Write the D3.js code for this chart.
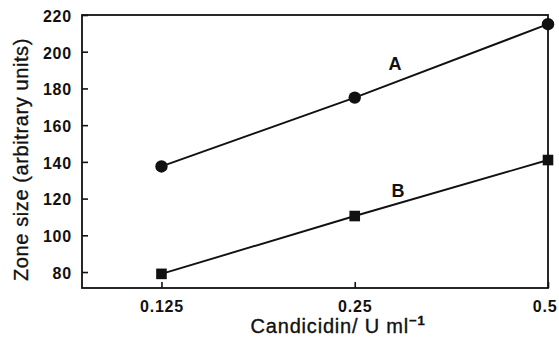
<!DOCTYPE html>
<html>
<head>
<meta charset="utf-8">
<script src="https://cdn.jsdelivr.net/npm/d3@7"></script>
<style>
  html, body { margin: 0; padding: 0; background: #fff; }
  svg text { font-family: "Liberation Sans", Arial, Helvetica, sans-serif; fill: #111; }
</style>
</head>
<body>
<svg id="chart" width="559" height="342"></svg>
<script>
// Candicidin concentration (U/ml) on a log axis
const doses = [0.125, 0.25, 0.5];
const doseLabels = ["0.125", "0.25", "0.5"];
// Zone size for the two assay series
const seriesA = [137.5, 175, 215];
const seriesB = [79, 110.5, 141];
const yTicks = [80, 100, 120, 140, 160, 180, 200, 220];

const margin = { left: 82, top: 15, right: 11, bottom: 54 };
const W = 559, H = 342;
const svg = d3.select("#chart");

const x = d3.scaleLog().base(2).domain([0.0940, 0.5]).range([margin.left, W - margin.right]);
const y = d3.scaleLinear().domain([71.3, 220]).range([H - margin.bottom, margin.top]);

const ink = "#111";
const tickFont = sel => sel
  .attr("font-size", 16).attr("font-weight", "bold").attr("letter-spacing", 0.8)
  .attr("fill", ink).attr("font-family", "Liberation Sans, Arial, sans-serif");

// frame
svg.append("rect")
  .attr("x", margin.left).attr("y", margin.top)
  .attr("width", W - margin.right - margin.left)
  .attr("height", H - margin.bottom - margin.top)
  .attr("fill", "none").attr("stroke", ink).attr("stroke-width", 1.8);

// y axis, ticks pointing inward
const yAxis = svg.append("g")
  .attr("transform", `translate(${margin.left},0)`)
  .call(d3.axisLeft(y).tickValues(yTicks).tickSizeInner(-6).tickSizeOuter(0).tickPadding(10));
yAxis.select(".domain").remove();
yAxis.selectAll(".tick line").attr("stroke", ink).attr("stroke-width", 1.6);
yAxis.selectAll(".tick text").call(tickFont).attr("dy", "0.4em");

// x axis, ticks pointing inward
const xAxis = svg.append("g")
  .attr("transform", `translate(0,${H - margin.bottom})`)
  .call(d3.axisBottom(x).tickValues(doses).tickFormat((d, i) => doseLabels[i]).tickSizeInner(-6).tickSizeOuter(0).tickPadding(13));
xAxis.select(".domain").remove();
xAxis.selectAll(".tick line").attr("stroke", ink).attr("stroke-width", 1.6);
xAxis.selectAll(".tick text").call(tickFont);
// keep the last label inside the page edge
xAxis.selectAll(".tick text").filter(d => d === doses[doses.length - 1])
  .attr("text-anchor", "end").attr("x", 9);

// axis titles
svg.append("text")
  .attr("transform", `translate(28,${(margin.top + H - margin.bottom) / 2 + 8}) rotate(-90)`)
  .attr("text-anchor", "middle").attr("font-size", 20).attr("letter-spacing", 0.6)
  .attr("stroke", ink).attr("stroke-width", 0.35)
  .text("Zone size (arbitrary units)");

const xt = svg.append("text")
  .attr("x", 338).attr("y", 333)
  .attr("text-anchor", "middle").attr("font-size", 20).attr("letter-spacing", 0.8)
  .attr("stroke", ink).attr("stroke-width", 0.35);
xt.append("tspan").text("Candicidin/ U ml");
xt.append("tspan").attr("dy", -8).attr("font-size", 13).attr("font-weight", "bold").text("\u22121");

const line = d3.line().x((d, i) => x(doses[i])).y(d => y(d));

// series A: circles
svg.append("path").datum(seriesA).attr("d", line)
  .attr("fill", "none").attr("stroke", ink).attr("stroke-width", 1.9);
svg.selectAll(".ptA").data(seriesA).enter().append("circle")
  .attr("cx", (d, i) => x(doses[i])).attr("cy", d => y(d)).attr("r", 6.2).attr("fill", ink);

// series B: squares
svg.append("path").datum(seriesB).attr("d", line)
  .attr("fill", "none").attr("stroke", ink).attr("stroke-width", 1.9);
svg.selectAll(".ptB").data(seriesB).enter().append("rect")
  .attr("x", (d, i) => x(doses[i]) - 5.3).attr("y", d => y(d) - 5.3)
  .attr("width", 10.6).attr("height", 10.6).attr("fill", ink);

// series labels
svg.append("text").attr("x", 395).attr("y", 70).attr("font-size", 18).attr("font-weight", "bold").attr("text-anchor", "middle").text("A");
svg.append("text").attr("x", 398).attr("y", 197).attr("font-size", 18).attr("font-weight", "bold").attr("text-anchor", "middle").text("B");
</script>
</body>
</html>
